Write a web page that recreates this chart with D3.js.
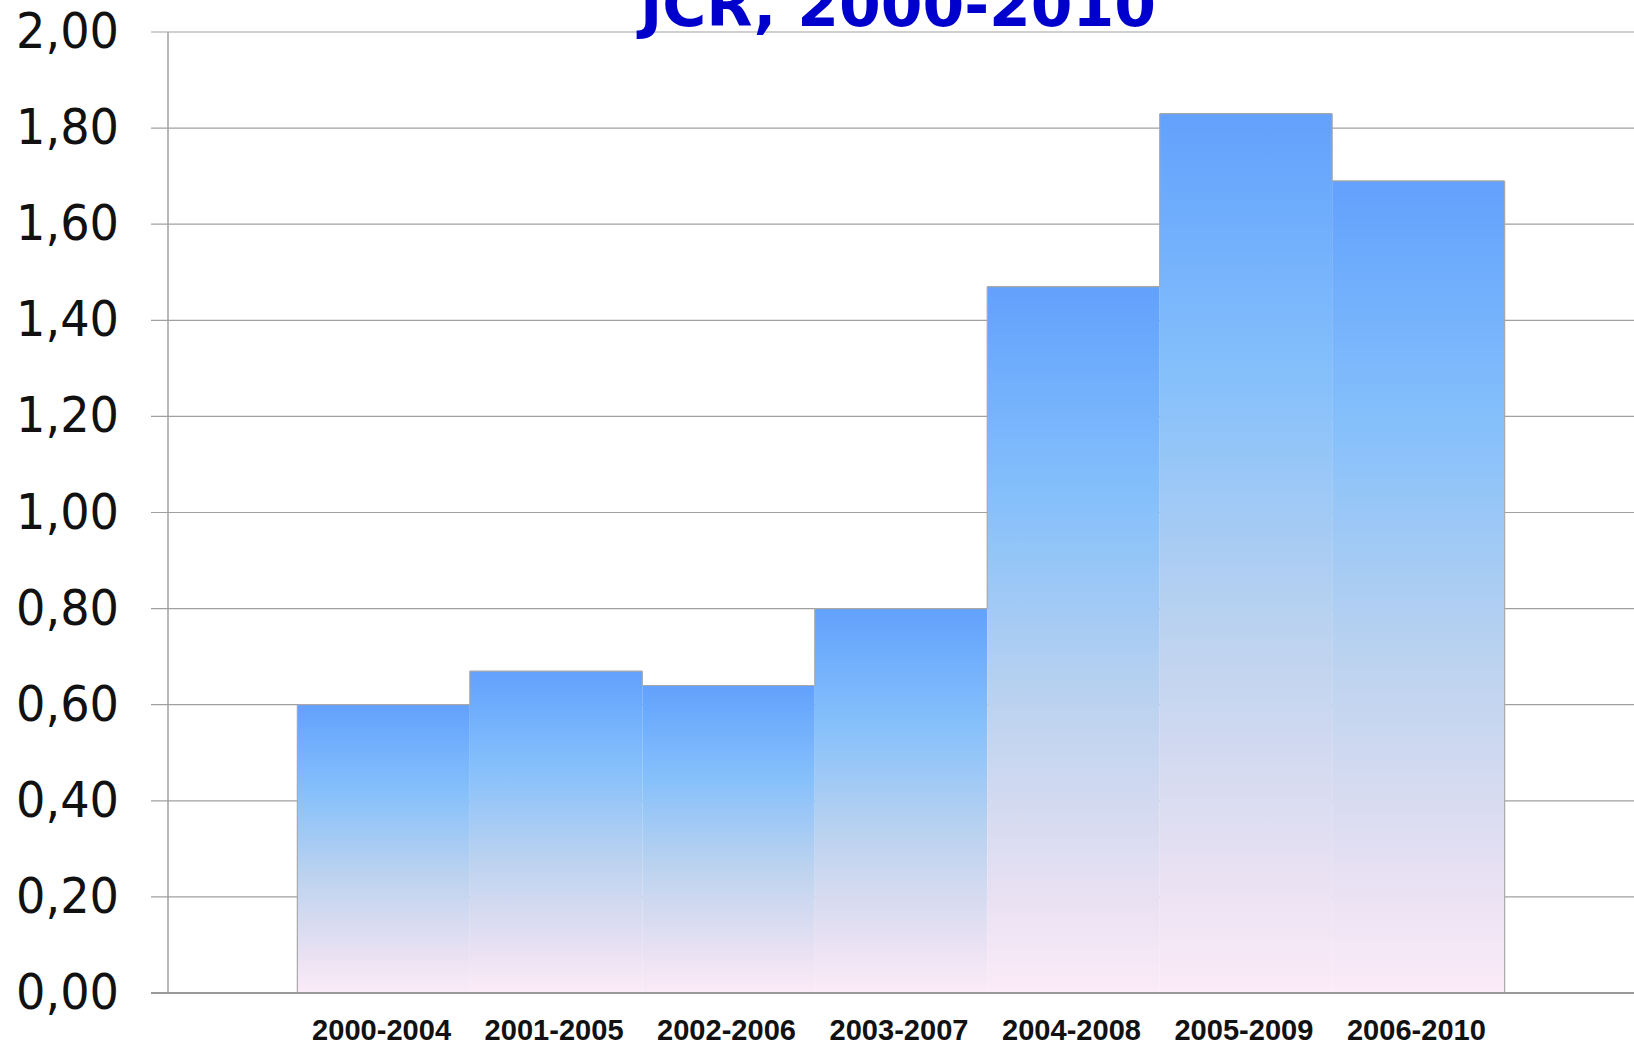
<!DOCTYPE html>
<html>
<head>
<meta charset="utf-8">
<script src="https://cdn.jsdelivr.net/npm/d3@7"></script>
<style>
  html, body { margin: 0; padding: 0; background: #ffffff; overflow: hidden; }
  svg { display: block; }
</style>
</head>
<body>
<svg id="chart" width="1634" height="1047"></svg>
<script>
// ---- data ----
const titleText = "JCR, 2000-2010";
const categories = ["2000-2004", "2001-2005", "2002-2006", "2003-2007", "2004-2008", "2005-2009", "2006-2010"];
const values = [0.60, 0.67, 0.64, 0.80, 1.47, 1.83, 1.69];
const yTickValues = [0, 0.2, 0.4, 0.6, 0.8, 1.0, 1.2, 1.4, 1.6, 1.8, 2.0];
const yTickLabels = ["0,00", "0,20", "0,40", "0,60", "0,80", "1,00", "1,20", "1,40", "1,60", "1,80", "2,00"];

// ---- layout ----
const W = 1634, H = 1047;
const plotLeft = 168, plotRight = 1634, plotTop = 32, plotBottom = 993;
const tickStart = 151;
const gridColor = "#a0a0a0";

const svg = d3.select("#chart");

const y = d3.scaleLinear().domain([0, 2]).range([plotBottom, plotTop]);
const x = d3.scaleBand().domain(categories).range([plotLeft, plotRight]).paddingInner(0).paddingOuter(0.75);

// gradient
const defs = svg.append("defs");
const grad = defs.append("linearGradient").attr("id", "barGrad")
  .attr("x1", 0).attr("y1", 0).attr("x2", 0).attr("y2", 1);
[[0, "#62A1FD"], [0.3, "#85C0FB"], [0.6, "#BDD3EF"], [0.85, "#E6E0F2"], [1, "#FCEBF8"]]
  .forEach(([o, c]) => grad.append("stop").attr("offset", o).attr("stop-color", c));

// gridlines + ticks
svg.append("g").selectAll("line").data(yTickValues.filter(v => v > 0)).join("line")
  .attr("x1", tickStart).attr("x2", plotRight)
  .attr("y1", d => y(d)).attr("y2", d => y(d))
  .attr("stroke", gridColor).attr("stroke-width", 1.2);

// y axis line
svg.append("line")
  .attr("x1", plotLeft).attr("x2", plotLeft)
  .attr("y1", y(2)).attr("y2", y(0))
  .attr("stroke", gridColor).attr("stroke-width", 1.5);

// bars
svg.append("g").selectAll("rect").data(values).join("rect")
  .attr("x", (d, i) => x(categories[i]))
  .attr("width", x.bandwidth())
  .attr("y", d => y(d))
  .attr("height", d => y(0) - y(d))
  .attr("fill", "url(#barGrad)");

// bar outlines (top + exposed sides)
const outline = svg.append("g").attr("stroke", "#a8a8a8").attr("stroke-width", 1.2).attr("fill", "none");
values.forEach((v, i) => {
  const x0 = x(categories[i]), x1 = x0 + x.bandwidth();
  const leftNeighbor = i > 0 ? values[i - 1] : 0;
  const rightNeighbor = i < values.length - 1 ? values[i + 1] : 0;
  outline.append("line").attr("x1", x0).attr("x2", x1).attr("y1", y(v)).attr("y2", y(v));
  if (leftNeighbor < v) outline.append("line").attr("x1", x0).attr("x2", x0).attr("y1", y(v)).attr("y2", y(leftNeighbor));
  if (rightNeighbor < v) outline.append("line").attr("x1", x1).attr("x2", x1).attr("y1", y(v)).attr("y2", y(rightNeighbor));
});

// x axis line
svg.append("line")
  .attr("x1", tickStart).attr("x2", plotRight)
  .attr("y1", y(0)).attr("y2", y(0))
  .attr("stroke", "#999999").attr("stroke-width", 2);

// y labels
svg.append("g").selectAll("text").data(yTickValues).join("text")
  .attr("x", 119)
  .attr("y", d => y(d) + 16)
  .attr("text-anchor", "end")
  .attr("font-family", "DejaVu Sans, Verdana, sans-serif")
  .attr("font-size", 49)
  .attr("fill", "#111111")
  .attr("textLength", 103)
  .attr("lengthAdjust", "spacingAndGlyphs")
  .text((d, i) => yTickLabels[i]);

// x labels
svg.append("g").selectAll("text").data(categories).join("text")
  .attr("x", d => x(d) + x.bandwidth() / 2 - 2)
  .attr("y", 1040)
  .attr("text-anchor", "middle")
  .attr("font-family", "Liberation Sans, Arial, sans-serif")
  .attr("font-weight", "bold")
  .attr("font-size", 29)
  .attr("fill", "#111111")
  .attr("textLength", 139)
  .attr("lengthAdjust", "spacingAndGlyphs")
  .text(d => d);

// title
svg.append("text")
  .attr("x", (plotLeft + plotRight) / 2 - 3)
  .attr("y", 26)
  .attr("text-anchor", "middle")
  .attr("font-family", "DejaVu Sans, Verdana, sans-serif")
  .attr("font-weight", "bold")
  .attr("font-size", 60)
  .attr("fill", "#0000CC")
  .text(titleText);
</script>
</body>
</html>
